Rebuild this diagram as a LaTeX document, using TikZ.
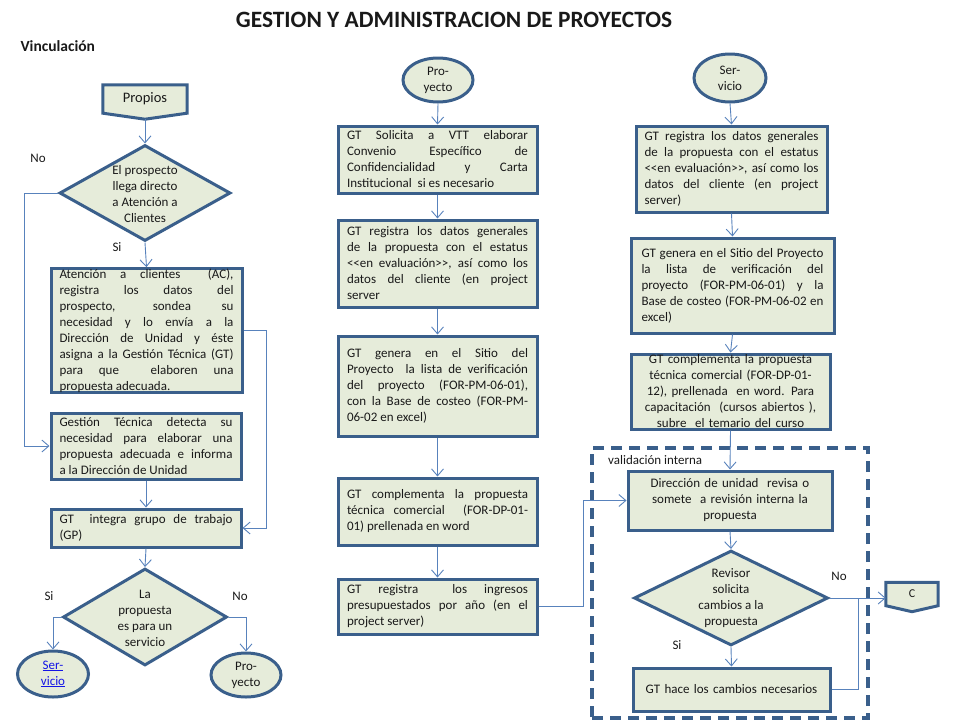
\documentclass[tikz,border=0pt]{standalone}
\usepackage{fontspec}
\setmainfont{Carlito}
\usetikzlibrary{shapes.geometric,arrows.meta,backgrounds,calc}
\definecolor{boxfill}{RGB}{230,236,218}
\definecolor{boxline}{RGB}{58,95,139}
\definecolor{conncol}{RGB}{88,130,188}
\definecolor{linkblue}{RGB}{20,20,230}
\hyphenpenalty=10000
\exhyphenpenalty=10000
\tolerance=10000
\begin{document}
\begin{tikzpicture}[x=1pt,y=-1pt,
  every node/.style={font=\fontsize{13}{16}\selectfont, text=black!90},
  box/.style={draw=boxline, line width=3pt, fill=boxfill, inner sep=0pt, align=justify},
  cbox/.style={box, align=center},
  decision/.style={diamond, draw=boxline, line width=3pt, fill=boxfill, inner sep=0pt},
  term/.style={ellipse, draw=boxline, line width=3pt, fill=boxfill, inner sep=0pt, align=center},
  pent/.style={draw=boxline, line width=3pt, fill=boxfill},
  conn/.style={draw=conncol, line width=0.9pt, -{Straight Barb[length=7pt,width=12pt,line width=0.9pt]}},
  joinline/.style={draw=conncol, line width=0.9pt},
  lbl/.style={inner sep=0pt},
  dtext/.style={align=center, inner sep=0pt},
  frame/.style={draw=boxline, line width=4pt, dash pattern=on 11pt off 7pt, inner sep=0pt},
]
\useasboundingbox (0,0) rectangle (960,720);

% titles
\node[font=\bfseries\fontsize{23.4}{26}\selectfont] (title) at (454,20) {GESTION Y ADMINISTRACION DE PROYECTOS};
\node[anchor=west, font=\bfseries\fontsize{15.5}{18}\selectfont] (vinc) at (17,46) {Vinculación};

% dashed frame
\node[frame, minimum width=276, minimum height=270] (valframe) at (730,583) {};
\node[lbl, anchor=west] (valtxt) at (608,460) {validación interna};

% ---------------- left column
\node[inner sep=0pt, minimum width=84, minimum height=28, font=\fontsize{14.5}{17}\selectfont] (propios) at (145,99) {Propios};
\begin{scope}[on background layer]
\draw[pent] (propios.north west) -- (propios.north east) -- (propios.south east) -- ($(propios.south)+(0,6)$) -- (propios.south west) -- cycle;
\end{scope}

\node[decision, minimum width=171, minimum height=96] (d1) at (145,193) {};
\node[dtext] (d1t) at (145,194) {El prospecto\\llega directo\\a Atención a\\Clientes};

\node[box, text width=174, minimum width=191, minimum height=123] (ac) at (146.5,330.5) {Atención a clientes \ (AC),\linebreak registra los datos del\linebreak prospecto, sondea su\linebreak necesidad y lo envía a la\linebreak Dirección de Unidad y éste\linebreak asigna a la Gestión Técnica (GT)\linebreak para que \ elaboren una\linebreak propuesta adecuada.};

\node[box, text width=173, minimum width=190, minimum height=66] (gtd) at (146,446) {Gestión Técnica detecta su\linebreak necesidad para elaborar una\linebreak propuesta adecuada e informa\linebreak a la Dirección de Unidad};

\node[box, text width=173, minimum width=190, minimum height=38] (gp) at (146,528) {GT \ integra grupo de trabajo\linebreak (GP)};

\node[decision, minimum width=164, minimum height=97] (d2) at (145,617) {};
\node[dtext] (d2t) at (145,618) {La\\propuesta\\es para un\\servicio};

\node[term, minimum width=71, minimum height=46, text=linkblue] (servL) at (53,674) {\underline{Ser-}\\\underline{vicio}};
\node[term, minimum width=70, minimum height=44] (proyL) at (246,675) {Pro-\\yecto};

\node[lbl] (lno1) at (38,158) {No};
\node[lbl] (lsi1) at (117,247) {Si};
\node[lbl] (lsi2) at (49,596) {Si};
\node[lbl] (lno2) at (240,596) {No};

% ---------------- middle column
\node[term, minimum width=70, minimum height=44] (proyT) at (438,80) {Pro-\\yecto};

\node[box, text width=181, minimum width=199, minimum height=67] (m1) at (437.5,159.5) {GT Solicita a VTT elaborar\linebreak Convenio Específico de\linebreak Confidencialidad y Carta\linebreak Institucional \ si es necesario};

\node[box, text width=181, minimum width=199, minimum height=87] (m2) at (437.5,263.5) {GT registra los datos generales\linebreak de la propuesta con el estatus\linebreak <{}<en evaluación>{}>, así como los\linebreak datos del cliente (en project\linebreak server};

\node[box, text width=181, minimum width=199, minimum height=100] (m3) at (437.5,386) {GT genera en el Sitio del\linebreak Proyecto \ la lista de verificación\linebreak del proyecto (FOR-PM-06-01),\linebreak con la Base de costeo (FOR-PM-\linebreak 06-02 en excel)};

\node[box, text width=181, minimum width=199, minimum height=67] (m4) at (437.5,511.5) {GT complementa la propuesta\linebreak técnica comercial \ (FOR-DP-01-\linebreak 01) prellenada en word};

\node[box, text width=181, minimum width=199, minimum height=55] (m5) at (437.5,606.5) {GT registra \ los ingresos\linebreak presupuestados por año (en el\linebreak project server)};

% ---------------- right column
\node[term, minimum width=72, minimum height=48] (servT) at (730,78) {Ser-\\vicio};

\node[box, text width=174, minimum width=191, minimum height=86] (r1) at (731.5,169) {GT registra los datos generales\linebreak de la propuesta con el estatus\linebreak <{}<en evaluación>{}>, así como los\linebreak datos del cliente (en project\linebreak server)};

\node[box, text width=182, minimum width=203, minimum height=95] (r2) at (732.5,285.5) {GT genera en el Sitio del Proyecto\linebreak la lista de verificación del\linebreak proyecto (FOR-PM-06-01) y la\linebreak Base de costeo (FOR-PM-06-02 en\linebreak excel)};

\node[cbox, text width=192, minimum width=199, minimum height=75] (r3) at (730.5,391.5) {GT complementa la propuesta\\técnica comercial (FOR-DP-01-\\12), prellenada \ en word. Para\\capacitación \ (cursos abiertos ),\\subre \ el temario del curso};

\node[cbox, text width=190, minimum width=204, minimum height=59] (dir) at (730,500.5) {Dirección de unidad \ revisa o\\somete \ a revisión interna la\\propuesta};

\node[decision, minimum width=194, minimum height=95] (d3) at (731,598) {};
\node[dtext] (d3t) at (731,598) {Revisor\\solicita\\cambios a la\\propuesta};

\node[inner sep=0pt, minimum width=52, minimum height=23, font=\fontsize{12}{14}\selectfont] (cnode) at (912,594) {C};
\begin{scope}[on background layer]
\draw[pent] (cnode.north west) -- (cnode.north east) -- (cnode.south east) -- ($(cnode.south)+(0,6)$) -- (cnode.south west) -- cycle;
\end{scope}

\node[cbox, text width=190, minimum width=197, minimum height=43] (gth) at (731.5,689.5) {GT hace los cambios necesarios};

\node[lbl] (lno3) at (839,576) {No};
\node[lbl] (lsi3) at (677,645) {Si};

\coordinate (joinpt) at (858,598);

% ---------------- connectors
\draw[conn] ($(propios.south)+(0,6)$) -- (d1.north);
\draw[conn] (d1.south) -- (ac.north);
\draw[conn] (d1.west) -- ++(-34,0) |- (gtd.west);
\draw[conn] (ac.east) -- ++(23,0) |- (gp.east);
\draw[conn] (gtd.south) -- (gp.north);
\draw[conn] (gp.south) -- (d2.north);
\draw[conn] (d2.west) -| (servL.north);
\draw[conn] (d2.east) -| (proyL.north);

\draw[conn] (proyT.south) -- (m1.north);
\draw[conn] (m1.south) -- (m2.north);
\draw[conn] (m2.south) -- (m3.north);
\draw[conn] (m3.south) -- (m4.north);
\draw[conn] (m4.south) -- (m5.north);
\draw[conn] (m5.east) -- ++(45,0) |- (dir.west);

\draw[conn] (servT.south) -- (r1.north);
\draw[conn] (r1.south) -- (r2.north);
\draw[conn] (r2.south) -- (r3.north);
\draw[conn] (r3.south) -- (dir.north);
\draw[conn] (dir.south) -- (d3.north);
\draw[conn] (d3.south) -- (gth.north);
\draw[conn] (d3.east) -- (d3.east -| cnode.west);
\draw[joinline] (gth.east) -| (joinpt);
\end{tikzpicture}
\end{document}
